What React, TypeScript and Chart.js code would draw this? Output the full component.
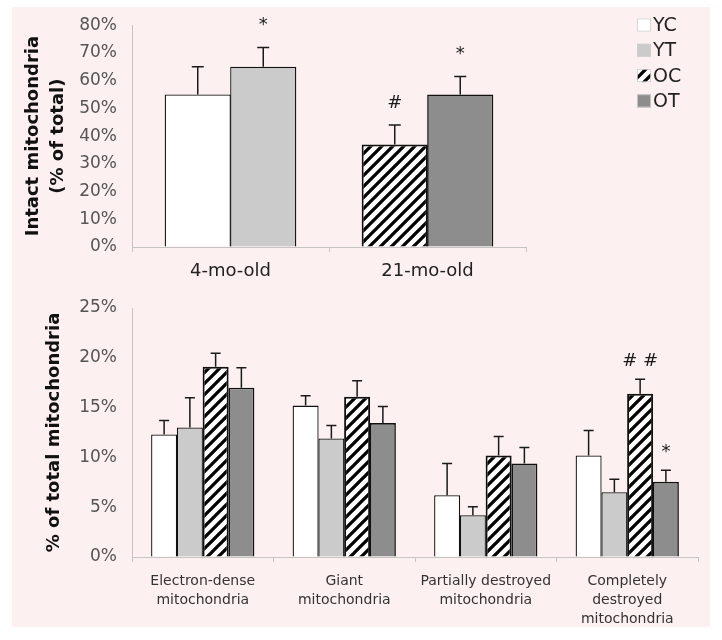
import React, { useEffect, useRef } from 'react';
import { Chart, registerables } from 'chart.js';

Chart.register(...registerables);

// ---------- data ----------
const seriesNames = ['YC', 'YT', 'OC', 'OT'];

const topCategories = ['4-mo-old', '21-mo-old'];
const topYC = [55, null];
const topYT = [65, null];
const topOC = [null, 37];
const topOT = [null, 55];
const topErrYC = [10, null];
const topErrYT = [7, null];
const topErrOC = [null, 7];
const topErrOT = [null, 6.5];
const topMarksYC = ['', ''];
const topMarksYT = ['*', ''];
const topMarksOC = ['', '#'];
const topMarksOT = ['', '*'];
const topYMax = 80;
const topYStep = 10;

const bottomCategories = [
  ['Electron-dense', 'mitochondria'],
  ['Giant', 'mitochondria'],
  ['Partially destroyed', 'mitochondria'],
  ['Completely', 'destroyed', 'mitochondria'],
];
const botYC = [12.3, 15.2, 6.2, 10.2];
const botYT = [13.0, 11.9, 4.2, 6.5];
const botOC = [19.1, 16.1, 10.2, 16.4];
const botOT = [17.0, 13.45, 9.4, 7.55];
const botErrYC = [1.4, 1.0, 3.2, 2.5];
const botErrYT = [3.0, 1.3, 0.85, 1.3];
const botErrOC = [1.35, 1.6, 1.9, 1.45];
const botErrOT = [2.0, 1.65, 1.6, 1.15];
const botMarksYC = ['', '', '', ''];
const botMarksYT = ['', '', '', ''];
const botMarksOC = ['', '', '', '# #'];
const botMarksOT = ['', '', '', '*'];
const botYMax = 25;
const botYStep = 5;

const topTitle = ['Intact mitochondria', '(% of total)'];
const botTitle = '% of total mitochondria';

// ---------- styles ----------
const FONT = "'DejaVu Sans', Verdana, sans-serif";
const BG = '#fdf0f0';
const AXIS = '#c4c4c4';
const colYC = '#ffffff';
const colYT = '#cbcbcb';
const colOT = '#8d8d8d';
const borderWidths = [1.3, 1.3, 2, 1.6];

function makeHatch(): CanvasPattern | string {
  const size = 11;
  const c = document.createElement('canvas');
  c.width = size;
  c.height = size;
  const g = c.getContext('2d');
  if (!g) return '#ffffff';
  g.fillStyle = '#ffffff';
  g.fillRect(0, 0, size, size);
  g.strokeStyle = '#000000';
  g.lineWidth = 3.3;
  g.beginPath();
  for (const k of [0, size, 2 * size]) {
    g.moveTo(-3, k + 3);
    g.lineTo(k + 3, -3);
  }
  g.stroke();
  const p = g.createPattern(c, 'repeat');
  return p || '#ffffff';
}

const errorBarPlugin = {
  id: 'errorBars',
  afterDatasetsDraw(chart: any, _args: any, opts: any) {
    const { ctx } = chart;
    const yScale = chart.scales.y;
    const errs: (number | null)[][] = opts.errors || [];
    const marks: string[][] = opts.marks || [];
    const cap = opts.cap || 10;
    ctx.save();
    chart.data.datasets.forEach((ds: any, i: number) => {
      const meta = chart.getDatasetMeta(i);
      meta.data.forEach((el: any, j: number) => {
        const v = ds.data[j];
        const e = errs[i] ? errs[i][j] : null;
        if (v === null || v === undefined || e === null || e === undefined) return;
        const x = el.x;
        const y0 = el.y;
        const y1 = yScale.getPixelForValue(v + e);
        ctx.strokeStyle = '#1a1a1a';
        ctx.lineWidth = 1.5;
        ctx.beginPath();
        ctx.moveTo(x, y0);
        ctx.lineTo(x, y1);
        ctx.moveTo(x - cap / 2, y1);
        ctx.lineTo(x + cap / 2, y1);
        ctx.stroke();
        const m = marks[i] ? marks[i][j] : '';
        if (m) {
          ctx.fillStyle = '#1a1a1a';
          ctx.font = `18px ${FONT}`;
          ctx.textAlign = 'center';
          ctx.textBaseline = 'alphabetic';
          ctx.fillText(m, x, y1 - opts.gap);
        }
      });
    });
    ctx.restore();
  },
};

const legendPlugin = {
  id: 'boxLegend',
  afterDraw(chart: any, _args: any, opts: any) {
    if (!opts || !opts.show) return;
    const { ctx } = chart;
    ctx.save();
    chart.data.datasets.forEach((ds: any, i: number) => {
      const cy = opts.y + i * opts.step;
      ctx.fillStyle = ds.backgroundColor;
      ctx.fillRect(opts.x, cy - 6.5, 14, 13);
      ctx.strokeStyle = '#cfcfcf';
      ctx.lineWidth = 0.8;
      ctx.strokeRect(opts.x + 0.4, cy - 6.1, 13.2, 12.2);
      ctx.fillStyle = '#222222';
      ctx.font = `19px ${FONT}`;
      ctx.textAlign = 'left';
      ctx.textBaseline = 'middle';
      ctx.fillText(ds.label, opts.x + 16, cy + 1);
    });
    ctx.restore();
  },
};

function makeDatasets(values: (number | null)[][], hatch: CanvasPattern | string) {
  const fills = [colYC, colYT, hatch, colOT];
  return seriesNames.map((name, i) => ({
    label: name,
    data: values[i],
    backgroundColor: fills[i],
    borderColor: '#111111',
    borderWidth: borderWidths[i],
    borderSkipped: 'bottom',
  }));
}

function pct(v: any) {
  return v + '%';
}

export default function App() {
  const topRef = useRef<HTMLCanvasElement>(null);
  const botRef = useRef<HTMLCanvasElement>(null);

  useEffect(() => {
    const hatch = makeHatch();
    const top = new Chart(topRef.current as HTMLCanvasElement, {
      type: 'bar',
      data: {
        labels: topCategories,
        datasets: makeDatasets([topYC, topYT, topOC, topOT], hatch) as any,
      },
      options: {
        animation: false,
        responsive: false,
        maintainAspectRatio: false,
        layout: { padding: { left: 0, top: 22, right: 722 - 526, bottom: 0 } },
        datasets: { bar: { skipNull: true, categoryPercentage: 0.665, barPercentage: 1.01 } } as any,
        plugins: {
          legend: { display: false },
          tooltip: { enabled: false },
          errorBars: {
            errors: [topErrYC, topErrYT, topErrOC, topErrOT],
            marks: [topMarksYC, topMarksYT, topMarksOC, topMarksOT],
            cap: 12,
            gap: 17,
          },
          boxLegend: { show: true, x: 637, y: 25, step: 25.3 },
        } as any,
        scales: {
          x: {
            grid: { offset: true, drawOnChartArea: false, tickLength: 5, color: AXIS },
            border: { color: AXIS },
            ticks: { font: { family: FONT, size: 18 }, color: '#222222', padding: 9 },
            afterFit: (s: any) => { s.height = 53; },
          },
          y: {
            min: 0,
            max: topYMax,
            grid: { drawOnChartArea: false, drawTicks: false, color: AXIS },
            border: { color: AXIS },
            ticks: { stepSize: topYStep, callback: pct, font: { family: FONT, size: 17 }, color: '#555555', padding: 15 },
            title: {
              display: true,
              text: topTitle,
              font: { family: FONT, size: 18, weight: 'bold', lineHeight: 1.4 },
              color: '#111111',
              padding: { top: 21, bottom: 0 },
            },
            afterFit: (s: any) => { s.width = 132; },
          },
        } as any,
      },
      plugins: [errorBarPlugin, legendPlugin],
    });

    const bot = new Chart(botRef.current as HTMLCanvasElement, {
      type: 'bar',
      data: {
        labels: bottomCategories as any,
        datasets: makeDatasets([botYC, botYT, botOC, botOT], hatch) as any,
      },
      options: {
        animation: false,
        responsive: false,
        maintainAspectRatio: false,
        layout: { padding: { left: 0, top: 28, right: 722 - 698, bottom: 0 } },
        datasets: { bar: { categoryPercentage: 0.728, barPercentage: 1.01 } } as any,
        plugins: {
          legend: { display: false },
          tooltip: { enabled: false },
          errorBars: {
            errors: [botErrYC, botErrYT, botErrOC, botErrOT],
            marks: [botMarksYC, botMarksYT, botMarksOC, botMarksOT],
            cap: 10,
            gap: 13,
          },
          boxLegend: { show: false },
        } as any,
        scales: {
          x: {
            grid: { offset: true, drawOnChartArea: false, tickLength: 5, color: AXIS },
            border: { color: AXIS },
            ticks: { font: { family: FONT, size: 14, lineHeight: 1.36 }, color: '#333333', padding: 10, maxRotation: 0, autoSkip: false },
            afterFit: (s: any) => { s.height = 83; },
          },
          y: {
            min: 0,
            max: botYMax,
            grid: { drawOnChartArea: false, drawTicks: false, color: AXIS },
            border: { color: AXIS },
            ticks: { stepSize: botYStep, callback: pct, font: { family: FONT, size: 17 }, color: '#555555', padding: 15 },
            title: {
              display: true,
              text: botTitle,
              font: { family: FONT, size: 18, weight: 'bold', lineHeight: 1.4 },
              color: '#111111',
              padding: { top: 42, bottom: 0 },
            },
            afterFit: (s: any) => { s.width = 132; },
          },
        } as any,
      },
      plugins: [errorBarPlugin, legendPlugin],
    });

    return () => {
      top.destroy();
      bot.destroy();
    };
  }, []);

  return (
    <div style={{ position: 'absolute', left: 0, top: 0, width: 722, height: 640, background: '#ffffff' }}>
      <div style={{ position: 'absolute', left: 12, top: 7, width: 698, height: 620, background: BG }} />
      <canvas ref={topRef} width={722} height={300} style={{ position: 'absolute', left: 0, top: 0, width: 722, height: 300 }} />
      <canvas ref={botRef} width={722} height={360} style={{ position: 'absolute', left: 0, top: 280, width: 722, height: 360 }} />
    </div>
  );
}
